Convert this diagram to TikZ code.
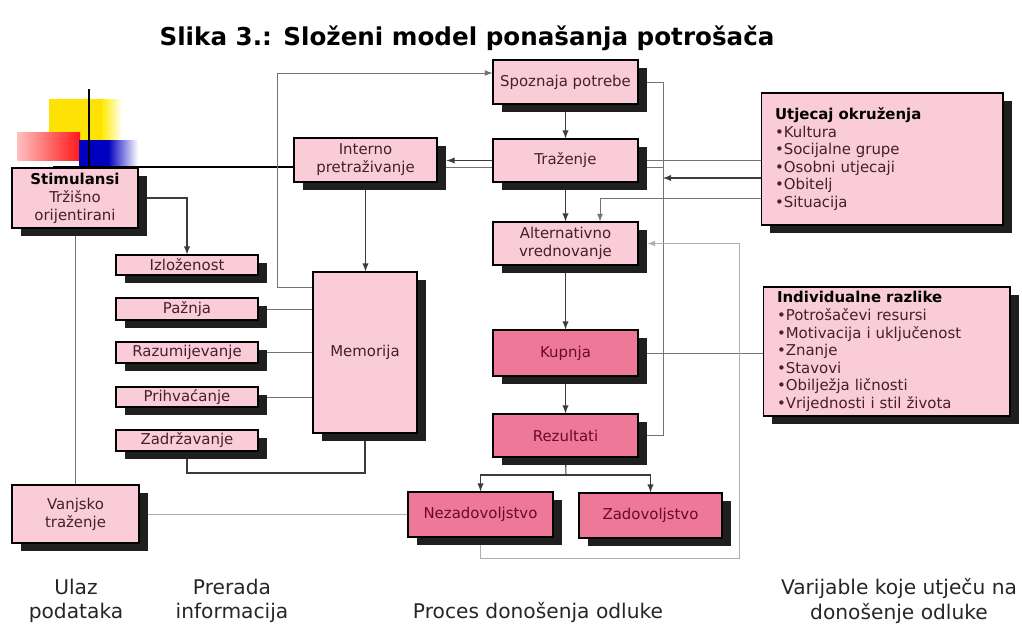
\documentclass[tikz,border=0pt]{standalone}
\usepackage{fontspec}
\setmainfont{DejaVu Sans}
\usepackage{tikz}
\usetikzlibrary{arrows,shadows,backgrounds}

\definecolor{svijetla}{RGB}{250,204,216}
\definecolor{tamna}{RGB}{238,120,152}
\definecolor{tekst}{RGB}{70,30,45}
\definecolor{tamnitekst}{RGB}{105,10,40}
\definecolor{linija}{RGB}{60,60,60}
\definecolor{siva}{RGB}{175,175,175}

\begin{document}
\begin{tikzpicture}[x=0.02cm,y=-0.02cm,
  kutija/.style={draw=black,line width=0.6pt,fill=svijetla,text=tekst,align=center,inner sep=1pt,
    font=\fontsize{8.5}{10.2}\selectfont,
    drop shadow={shadow xshift=0.18cm,shadow yshift=-0.16cm,opacity=1,fill=black!88}},
  tamnakutija/.style={kutija,fill=tamna,text=tamnitekst},
  popis/.style={kutija,align=left,inner xsep=0.28cm,font=\fontsize{8.5}{10}\selectfont},
  veza/.style={draw=linija,line width=0.6pt},
  tankaveza/.style={draw=black!55,line width=0.5pt},
  sivaveza/.style={draw=siva,line width=0.5pt},
  strelica/.style={veza,-latex},
  oznaka/.style={align=center,text=black!85,font=\fontsize{11.5}{14}\selectfont}]

\useasboundingbox (0,0) rectangle (1022,632);

% naslov
\node[font=\bfseries\fontsize{14}{16}\selectfont] (naslov) at (467,38) {Slika 3.: Složeni model ponašanja potrošača};

% ulaz podataka
\node[kutija,minimum width=2.52cm,minimum height=1.2cm] (stimulansi) at (75,198) {\textbf{\color{black}Stimulansi}\\Tržišno\\orijentirani};
\node[kutija,minimum width=2.54cm,minimum height=1.16cm] (vanjsko) at (75.5,514) {Vanjsko\\traženje};

% prerada informacija
\node[kutija,minimum width=2.84cm,minimum height=0.40cm] (izlozenost) at (187,265) {Izloženost};
\node[kutija,minimum width=2.84cm,minimum height=0.44cm] (paznja) at (187,309) {Pažnja};
\node[kutija,minimum width=2.84cm,minimum height=0.42cm] (razumijevanje) at (187,352.5) {Razumijevanje};
\node[kutija,minimum width=2.84cm,minimum height=0.40cm] (prihvacanje) at (187,397) {Prihvaćanje};
\node[kutija,minimum width=2.84cm,minimum height=0.42cm] (zadrzavanje) at (187,440.5) {Zadržavanje};
\node[kutija,minimum width=2.08cm,minimum height=3.22cm] (memorija) at (365,352.5) {Memorija};
\node[kutija,minimum width=2.86cm,minimum height=0.88cm] (interno) at (365.5,160) {Interno\\pretraživanje};

% proces donosenja odluke
\node[kutija,minimum width=2.9cm,minimum height=0.88cm] (spoznaja) at (565.5,82) {Spoznaja potrebe};
\node[kutija,minimum width=2.9cm,minimum height=0.86cm] (trazenje) at (565.5,160.5) {Traženje};
\node[kutija,minimum width=2.9cm,minimum height=0.86cm] (alternativno) at (565.5,243.5) {Alternativno\\vrednovanje};
\node[tamnakutija,minimum width=2.9cm,minimum height=0.92cm] (kupnja) at (565.5,353) {Kupnja};
\node[tamnakutija,minimum width=2.9cm,minimum height=0.86cm] (rezultati) at (565.5,435.5) {Rezultati};
\node[tamnakutija,minimum width=2.9cm,minimum height=0.9cm] (nezadovoljstvo) at (480.5,514.5) {Nezadovoljstvo};
\node[tamnakutija,minimum width=2.86cm,minimum height=0.9cm] (zadovoljstvo) at (650.5,515.5) {Zadovoljstvo};

% varijable
\node[popis,text width=4.28cm,minimum height=2.64cm] (utjecaj) at (882,159)
  {\textbf{\color{black}Utjecaj okruženja}\\•Kultura\\•Socijalne grupe\\•Osobni utjecaji\\•Obitelj\\•Situacija};
\node[popis,text width=4.38cm,minimum height=2.58cm] (individualne) at (886.5,351.5)
  {\textbf{\color{black}Individualne razlike}\\•Potrošačevi resursi\\•Motivacija i uključenost\\•Znanje\\•Stavovi\\•Obilježja ličnosti\\•Vrijednosti i stil života};

% donji natpisi
\node[oznaka] (ulaz) at (76,601) {Ulaz\\podataka};
\node[oznaka] (prerada) at (232,601) {Prerada\\informacija};
\node[oznaka] (proces) at (538,613) {Proces donošenja odluke};
\node[oznaka] (varijable) at (899,601) {Varijable koje utječu na\\donošenje odluke};

\begin{pgfonlayer}{background}
% ukrasni kvadrati
\fill[yellow!85!orange] (49,99) rectangle (102,140);
\shade[left color=yellow!85!orange,right color=white] (102,99) rectangle (122,140);
\shade[left color=red!25,right color=red!90] (17,132) rectangle (80,160);
\fill[blue!75!black] (79,140) rectangle (108,166);
\shade[left color=blue!75!black,right color=white] (108,140) rectangle (138,166);

\coordinate (vrh) at (89,89);
\coordinate (crta) at (53,167);
\coordinate (desno) at (663,0);
\coordinate (u1) at (0,178);
\coordinate (u2) at (600,198);
\coordinate (grana) at (566,475);
\coordinate (petlja) at (739,558);
\coordinate (dno) at (0,473);
\coordinate (gore) at (277,73);
\coordinate (m1) at (277,287);

\draw[line width=1.6pt] (vrh) -- (vrh |- crta);
\draw[line width=1.6pt] (crta) -- (interno.west |- crta);
\draw[tankaveza] (interno.east |- crta) -- (desno |- crta);

% veze
\draw[tankaveza,-latex] (memorija.west |- m1) -- (m1) -- (gore) -- (spoznaja.west |- gore);
\draw[strelica] (spoznaja.south) -- (trazenje.north);
\draw[tankaveza] (spoznaja.east) -- (desno |- spoznaja.east) -- (desno |- rezultati.east) -- (rezultati.east);
\draw[strelica] (trazenje.west) -- ([xshift=0.18cm]interno.east |- trazenje.west);
\draw[tankaveza] (utjecaj.west |- trazenje.east) -- (trazenje.east);
\draw[strelica] (utjecaj.west |- u1) -- (desno |- u1);
\draw[tankaveza,-latex] (utjecaj.west |- u2) -- (u2) -- (u2 |- alternativno.north);
\draw[strelica] (trazenje.south) -- (alternativno.north);
\draw[strelica] (alternativno.south) -- (kupnja.north);
\draw[strelica] (kupnja.south) -- (rezultati.north);
\draw[tankaveza] (individualne.west |- kupnja.east) -- (kupnja.east);
\draw[veza] (rezultati.south) -- (grana);
\draw[strelica] (grana) -| (nezadovoljstvo.north);
\draw[strelica] (grana) -| (zadovoljstvo.north);
\draw[sivaveza,-latex] (nezadovoljstvo.south) -- (nezadovoljstvo.south |- petlja) -- (petlja)
  -- (petlja |- alternativno.east) -- ([xshift=0.18cm]alternativno.east);
\draw[sivaveza] (vanjsko.east) -- (nezadovoljstvo.west |- vanjsko.east);
\draw[tankaveza] (stimulansi.south) -- (stimulansi.south |- vanjsko.north);
\draw[strelica] (stimulansi.east) -| (izlozenost.north);
\draw[strelica] (interno.south) -- (interno.south |- memorija.north);
\draw[tankaveza] (paznja.east) -- (memorija.west |- paznja.east);
\draw[tankaveza] (razumijevanje.east) -- (memorija.west |- razumijevanje.east);
\draw[tankaveza] (prihvacanje.east) -- (memorija.west |- prihvacanje.east);
\draw[veza] (zadrzavanje.south) -- (zadrzavanje.south |- dno) -| (memorija.south);
\end{pgfonlayer}

\end{tikzpicture}
\end{document}
